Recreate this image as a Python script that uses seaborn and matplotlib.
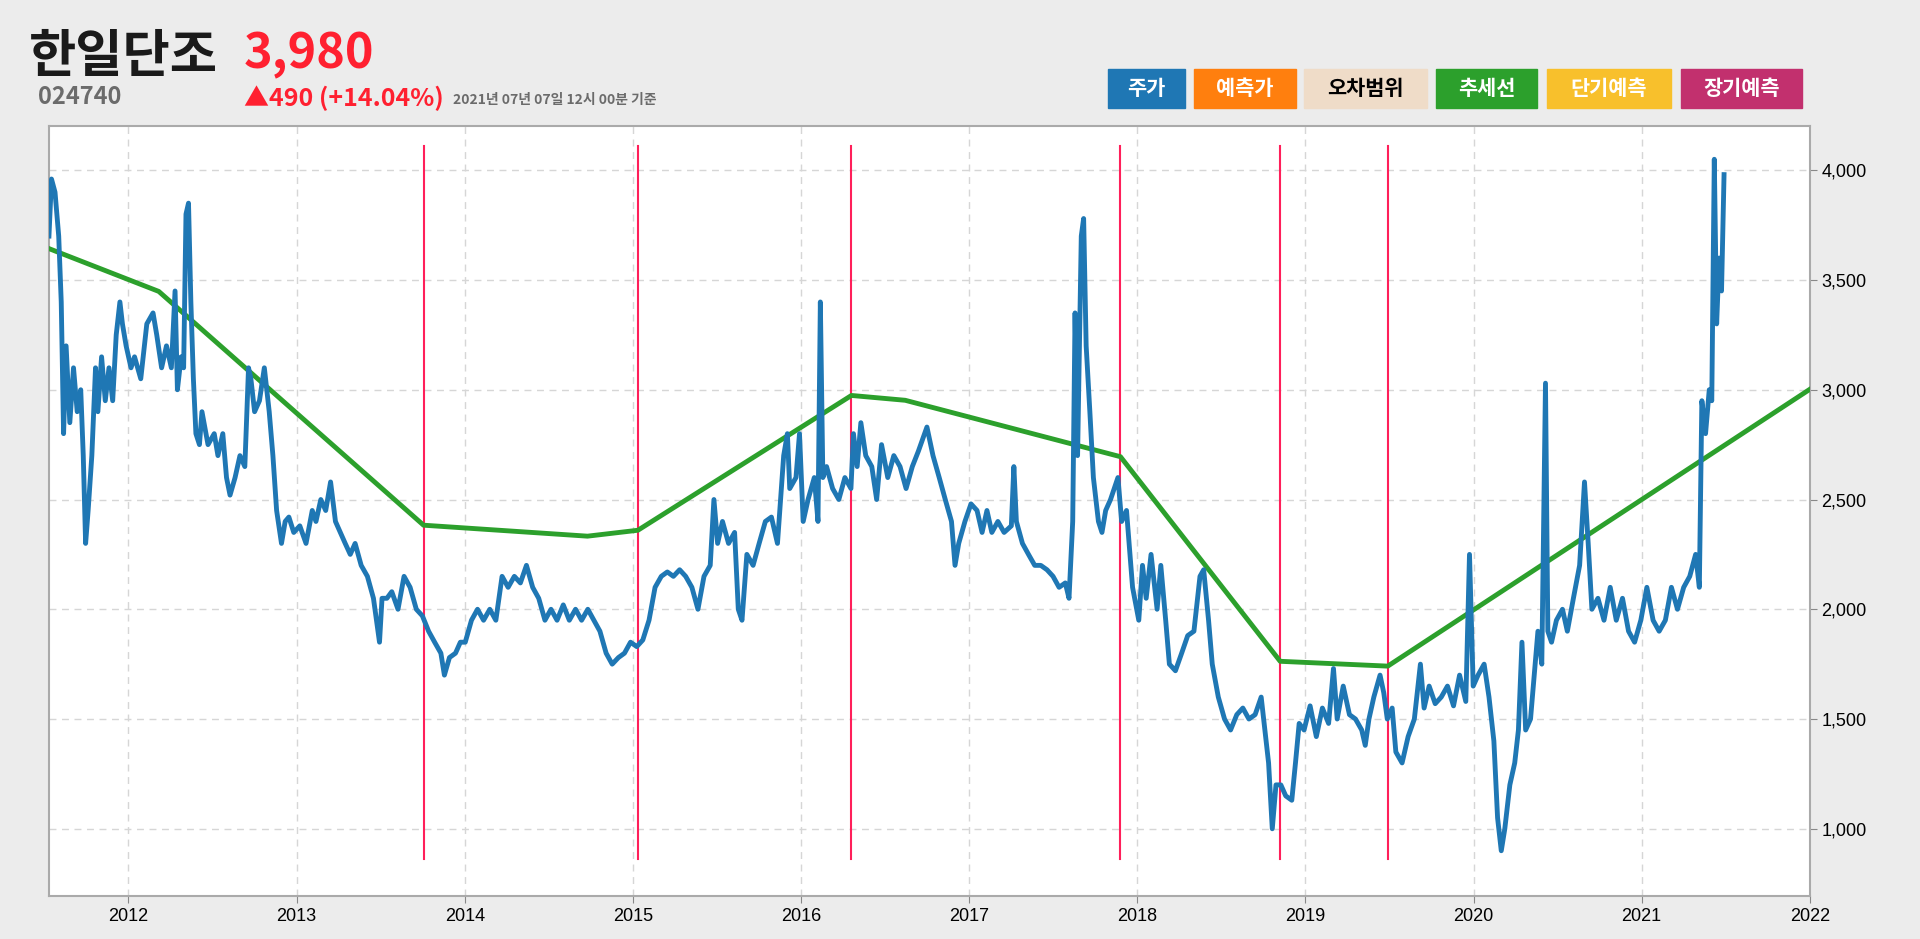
import matplotlib
matplotlib.use("Agg")
import matplotlib.pyplot as plt
import matplotlib.patches as mpatches
from matplotlib import font_manager
import seaborn as sns
import pandas as pd

cands = ["Noto Sans CJK KR", "Noto Sans CJK JP", "Noto Sans CJK SC", "Noto Sans CJK TC"]
avail = {f.name for f in font_manager.fontManager.ttflist}
kfam = [c for c in cands if c in avail]
if not kfam:
    for f in font_manager.findSystemFonts():
        if "cjk" in f.lower():
            try:
                font_manager.fontManager.addfont(f)
            except Exception:
                pass
    avail = {f.name for f in font_manager.fontManager.ttflist}
    kfam = [c for c in avail if "CJK" in c] or ["DejaVu Sans"]
plt.rcParams["font.family"] = kfam + ["DejaVu Sans"]

price_years = [2011.527,2011.542,2011.563,2011.585,2011.600,2011.614,2011.629,2011.651,2011.673,2011.695,2011.716,2011.731,2011.745,2011.760,2011.782,2011.804,2011.818,2011.840,2011.862,2011.884,2011.906,2011.927,2011.949,2011.964,2011.986,
2012.015,2012.036,2012.073,2012.109,2012.146,2012.168,2012.197,2012.226,2012.255,2012.277,2012.291,2012.313,2012.328,2012.342,2012.357,2012.371,2012.386,2012.401,2012.422,2012.437,2012.473,2012.510,2012.532,2012.561,2012.583,2012.604,2012.634,2012.663,2012.692,2012.714,2012.728,2012.750,2012.779,2012.808,2012.837,2012.859,2012.881,2012.910,2012.932,2012.954,2012.983,
2013.019,2013.056,2013.093,2013.115,2013.144,2013.173,2013.202,2013.231,2013.260,2013.289,2013.319,2013.348,2013.384,2013.421,2013.457,2013.493,2013.508,2013.537,2013.566,2013.603,2013.639,2013.675,2013.712,2013.748,2013.785,2013.821,2013.858,2013.879,2013.909,2013.945,2013.974,
2014.003,2014.040,2014.076,2014.112,2014.149,2014.185,2014.222,2014.258,2014.295,2014.331,2014.367,2014.404,2014.440,2014.477,2014.513,2014.549,2014.586,2014.622,2014.659,2014.695,2014.732,2014.768,2014.804,2014.841,2014.877,2014.914,2014.950,2014.986,
2015.023,2015.059,2015.096,2015.132,2015.169,2015.205,2015.241,2015.278,2015.314,2015.351,2015.387,2015.423,2015.460,2015.482,2015.504,2015.533,2015.569,2015.605,2015.627,2015.649,2015.678,2015.715,2015.751,2015.788,2015.824,2015.860,2015.897,2015.919,2015.933,2015.970,2015.991,
2016.013,2016.042,2016.079,2016.101,2016.115,2016.130,2016.152,2016.188,2016.225,2016.261,2016.297,2016.312,2016.334,2016.356,2016.385,2016.421,2016.450,2016.479,2016.516,2016.552,2016.589,2016.625,2016.662,2016.698,2016.749,2016.785,2016.822,2016.858,2016.895,2016.916,2016.938,2016.975,
2017.011,2017.047,2017.077,2017.106,2017.135,2017.171,2017.208,2017.251,2017.266,2017.281,2017.317,2017.353,2017.390,2017.426,2017.463,2017.499,2017.535,2017.572,2017.594,2017.616,2017.630,2017.645,2017.667,2017.681,2017.696,2017.718,2017.739,2017.769,2017.790,2017.812,2017.841,2017.863,2017.885,2017.907,2017.936,2017.972,
2018.009,2018.031,2018.053,2018.082,2018.118,2018.140,2018.169,2018.191,2018.227,2018.264,2018.300,2018.337,2018.373,2018.395,2018.424,2018.446,2018.482,2018.519,2018.555,2018.592,2018.628,2018.664,2018.701,2018.737,2018.759,2018.781,2018.803,2018.825,2018.854,2018.883,2018.919,2018.941,2018.963,2018.992,
2019.028,2019.065,2019.101,2019.138,2019.167,2019.189,2019.225,2019.262,2019.298,2019.335,2019.356,2019.378,2019.407,2019.444,2019.466,2019.487,2019.516,2019.538,2019.575,2019.611,2019.648,2019.684,2019.706,2019.736,2019.772,2019.808,2019.845,2019.881,2019.917,2019.954,2019.976,2019.998,
2020.027,2020.063,2020.092,2020.121,2020.143,2020.165,2020.186,2020.216,2020.245,2020.267,2020.288,2020.310,2020.339,2020.361,2020.383,2020.406,2020.428,2020.442,2020.464,2020.493,2020.529,2020.558,2020.594,2020.631,2020.660,2020.682,2020.704,2020.740,2020.776,2020.813,2020.849,2020.886,2020.922,2020.958,2020.995,
2021.031,2021.068,2021.104,2021.141,2021.177,2021.213,2021.250,2021.286,2021.321,2021.343,2021.358,2021.380,2021.402,2021.417,2021.432,2021.446,2021.461,2021.475,2021.490]

price_values = [3700,3960,3900,3700,3400,2800,3200,2850,3100,2900,3000,2700,2300,2450,2700,3100,2900,3150,2950,3100,2950,3250,3400,3300,3200,
3100,3150,3050,3300,3350,3250,3100,3200,3100,3450,3000,3150,3100,3800,3850,3400,3050,2800,2750,2900,2750,2800,2700,2800,2600,2520,2600,2700,2650,3100,3050,2900,2950,3100,2900,2700,2450,2300,2400,2420,2350,
2380,2300,2450,2400,2500,2450,2580,2400,2350,2300,2250,2300,2200,2150,2050,1850,2050,2050,2080,2000,2150,2100,2000,1970,1900,1850,1800,1700,1780,1800,1850,
1850,1950,2000,1950,2000,1950,2150,2100,2150,2120,2200,2100,2050,1950,2000,1950,2020,1950,2000,1950,2000,1950,1900,1800,1750,1780,1800,1850,
1830,1860,1950,2100,2150,2170,2150,2180,2150,2100,2000,2150,2200,2500,2300,2400,2300,2350,2000,1950,2250,2200,2300,2400,2420,2300,2700,2800,2550,2600,2800,
2400,2500,2600,2400,3400,2600,2650,2550,2500,2600,2550,2800,2650,2850,2700,2650,2500,2750,2600,2700,2650,2550,2650,2720,2830,2700,2600,2500,2400,2200,2300,2400,
2480,2450,2350,2450,2350,2400,2350,2380,2650,2400,2300,2250,2200,2200,2180,2150,2100,2120,2050,2400,3350,2700,3700,3780,3200,2900,2600,2400,2350,2450,2500,2550,2600,2400,2450,2100,
1950,2200,2050,2250,2000,2200,1950,1750,1720,1800,1880,1900,2150,2180,1950,1750,1600,1500,1450,1520,1550,1500,1520,1600,1450,1300,1000,1200,1200,1150,1130,1300,1480,1450,
1560,1420,1550,1480,1730,1500,1650,1520,1500,1450,1380,1500,1600,1700,1620,1500,1550,1350,1300,1420,1500,1750,1550,1650,1570,1600,1650,1560,1700,1580,2250,1650,
1700,1750,1600,1400,1050,900,1000,1200,1300,1450,1850,1450,1500,1700,1900,1750,3030,1900,1850,1950,2000,1900,2050,2200,2580,2300,2000,2050,1950,2100,1950,2050,1900,1850,1950,
2100,1950,1900,1950,2100,2000,2100,2150,2250,2100,2950,2800,3000,2950,4050,3300,3600,3450,3980]

trend_years = [2011.527,2012.18,2013.755,2014.73,2015.03,2016.30,2016.62,2017.90,2018.85,2019.49,2022.0]
trend_values = [3643,3448,2383,2333,2360,2974,2952,2695,1763,1741,3002]

event_years = [2013.755,2015.03,2016.30,2017.90,2018.85,2019.49]

x_ticks = list(range(2012, 2023))
y_ticks = [1000,1500,2000,2500,3000,3500,4000]

legend_labels = ["주가","예측가","오차범위","추세선","단기예측","장기예측"]
legend_colors = ["#1f77b4","#ff7f0e","#efdcc8","#2ca02c","#f8c02c","#c2306e"]
legend_text_colors = ["white","white","black","white","white","white"]

price_df = pd.DataFrame({"year": price_years, "value": price_values})
trend_df = pd.DataFrame({"year": trend_years, "value": trend_values})

fig = plt.figure(figsize=(19.2, 9.39), dpi=100, facecolor="#ececec")
ax = fig.add_axes([0.0255, 0.0456, 0.9171, 0.8201])
ax.set_facecolor("white")

for ey in event_years:
    ax.plot([ey, ey], [861, 4111], color="#ff1f5a", lw=1.5, zorder=2)
sns.lineplot(data=trend_df, x="year", y="value", ax=ax, color="#2ca02c", lw=3.5, zorder=3)
sns.lineplot(data=price_df, x="year", y="value", ax=ax, color="#1f77b4", lw=3.5, zorder=4)

ax.set_xlim(2011.527, 2022.0)
ax.set_ylim(693, 4201)
ax.set_xticks(x_ticks)
ax.set_xticklabels([str(t) for t in x_ticks], fontfamily="Liberation Sans")
ax.set_yticks(y_ticks)
ax.set_yticklabels([f"{v:,}" for v in y_ticks], fontfamily="Liberation Sans")
ax.yaxis.tick_right()
ax.tick_params(axis="both", labelsize=13, color="#888888", length=5)
ax.set_xlabel("")
ax.set_ylabel("")
ax.grid(True, color="#d6d6d6", linestyle=(0, (5, 4)), lw=1)
for s in ax.spines.values():
    s.set_color("#aaaaaa")
    s.set_linewidth(1.5)

fig.text(0.015, 0.940, "한일단조", fontsize=37, fontweight="bold", color="#1a1a1a", va="center")
fig.text(0.127, 0.942, "3,980", fontsize=35, fontweight="bold", color="#ff2030", va="center")
fig.text(0.020, 0.897, "024740", fontsize=17, fontweight="bold", color="#6b6b6b", va="center")
fig.text(0.127, 0.895, "▲490 (+14.04%)", fontsize=18, fontweight="bold", color="#ff2030", va="center")
fig.text(0.236, 0.893, "2021년 07년 07일 12시 00분 기준", fontsize=10, fontweight="bold", color="#6b6b6b", va="center")

boxes = [(905, 968), (975, 1058), (1065, 1165), (1173, 1255), (1263, 1365), (1373, 1472)]
for (l, r), lab, c, tc in zip(boxes, legend_labels, legend_colors, legend_text_colors):
    x0 = l / 1568; w = (r - l) / 1568
    y0 = 1 - 88 / 767; h = 32 / 767
    fig.patches.append(mpatches.Rectangle((x0, y0), w, h, transform=fig.transFigure, color=c, zorder=5))
    fig.text(x0 + w / 2, y0 + h / 2, lab, fontsize=15, fontweight="bold", color=tc, ha="center", va="center", zorder=6)

fig.savefig("out.png", dpi=100, facecolor=fig.get_facecolor())
